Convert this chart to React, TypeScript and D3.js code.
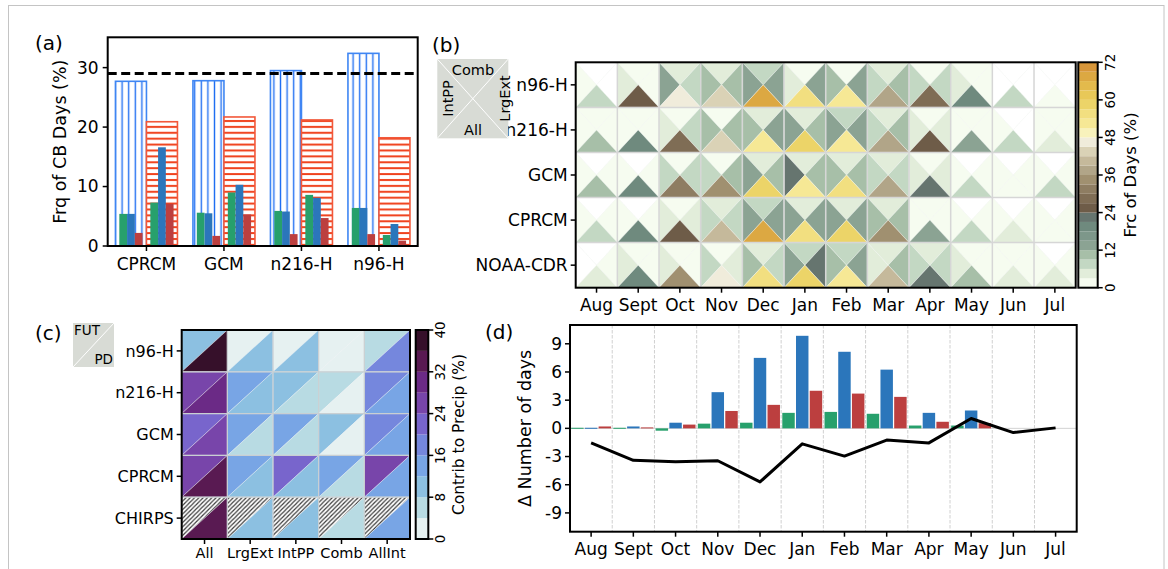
import React from "react";
import * as d3 from "d3";

const FONT = "'DejaVu Sans', sans-serif";

// ---------- Panel (a) ----------
const modelsA = ["CPRCM", "GCM", "n216-H", "n96-H"];
const hatchBlueTotals = [27.7, 27.8, 29.5, 32.4];
const hatchRedTotals = [20.9, 21.7, 21.2, 18.2];
const pdGreen = [5.4, 5.6, 5.9, 6.4];
const pdBlue = [5.4, 5.5, 5.8, 6.4];
const pdRed = [2.2, 1.7, 2.0, 2.0];
const futGreen = [7.3, 9.0, 8.6, 1.85];
const futBlue = [16.6, 10.3, 8.1, 3.7];
const futRed = [7.1, 5.3, 4.7, 0.9];
const obsLine = 29.0;
const aTicks = [0, 10, 20, 30];

// ---------- Panel (b) ----------
const monthsB = ["Aug", "Sept", "Oct", "Nov", "Dec", "Jan", "Feb", "Mar", "Apr", "May", "Jun", "Jul"];
const rowsB = ["n96-H", "n216-H", "GCM", "CPRCM", "NOAA-CDR"];
const bComb = [
  [0, 1.5, 4.5, 4.5, 7.5, 1.5, 1.5, 4.5, 1.5, 1.5, 0, 0],
  [1.5, 1.5, 1.5, 1.5, 4.5, 4.5, 7.5, 4.5, 1.5, 1.5, 0, 1.5],
  [0, 0, 1.5, 1.5, 4.5, 4.5, 4.5, 4.5, 1.5, 0, 0, 0],
  [0, 0, 1.5, 4.5, 7.5, 4.5, 4.5, 4.5, 1.5, 0, 0, 0],
  [0, 1.5, 1.5, 1.5, 4.5, 7.5, 7.5, 4.5, 4.5, 1.5, 1.5, 0],
];
const bIntPP = [
  [1.5, 4.5, 13.5, 10.5, 13.5, 4.5, 10.5, 7.5, 7.5, 4.5, 0, 0],
  [1.5, 1.5, 4.5, 10.5, 10.5, 13.5, 13.5, 7.5, 4.5, 1.5, 1.5, 1.5],
  [1.5, 1.5, 7.5, 7.5, 13.5, 22.5, 10.5, 7.5, 4.5, 1.5, 1.5, 1.5],
  [1.5, 1.5, 4.5, 7.5, 13.5, 13.5, 13.5, 10.5, 1.5, 1.5, 1.5, 1.5],
  [0, 4.5, 4.5, 7.5, 10.5, 13.5, 10.5, 4.5, 7.5, 4.5, 1.5, 1.5],
];
const bLrgExt = [
  [0, 1.5, 7.5, 10.5, 13.5, 13.5, 13.5, 10.5, 7.5, 1.5, 0, 0],
  [1.5, 1.5, 7.5, 10.5, 13.5, 10.5, 13.5, 10.5, 4.5, 1.5, 0, 1.5],
  [1.5, 1.5, 7.5, 10.5, 10.5, 10.5, 10.5, 7.5, 4.5, 1.5, 1.5, 1.5],
  [1.5, 1.5, 4.5, 7.5, 13.5, 13.5, 13.5, 10.5, 1.5, 1.5, 1.5, 1.5],
  [1.5, 1.5, 1.5, 4.5, 7.5, 22.5, 13.5, 10.5, 7.5, 1.5, 1.5, 1.5],
];
const bAll = [
  [7.5, 25.5, 46.5, 43.5, 67.5, 55.5, 52.5, 37.5, 28.5, 19.5, 7.5, 1.5],
  [10.5, 19.5, 28.5, 43.5, 52.5, 58.5, 52.5, 37.5, 25.5, 13.5, 7.5, 4.5],
  [10.5, 19.5, 31.5, 35, 58.5, 52.5, 55.5, 37.5, 22.5, 7.5, 1.5, 7.5],
  [7.5, 19.5, 25.5, 40.5, 67.5, 55.5, 58.5, 35, 13.5, 7.5, 4.5, 1.5],
  [4.5, 19.5, 34.5, 46.5, 55.5, 58.5, 52.5, 40.5, 22.5, 10.5, 4.5, 4.5],
];
const bTicks = [0, 12, 24, 36, 48, 60, 72];
const bPalette = [
  "#f6fcf0", "#e2edda", "#c3d8c3", "#a7bfa8", "#8ba393", "#7d978a", "#6f8a7e", "#66756f",
  "#6e5c48", "#7f6d55", "#8e7d62", "#a09070", "#b1a588", "#c5b99b", "#dad2b6", "#f0ecdb",
  "#f8f2bc", "#f6e895", "#f2df80", "#ecd468", "#e8c858", "#e3ba4c", "#dca842", "#d7963a",
];

// ---------- Panel (c) ----------
const rowsC = ["n96-H", "n216-H", "GCM", "CPRCM", "CHIRPS"];
const colsC = ["All", "LrgExt", "IntPP", "Comb", "AllInt"];
const cFUT: (number | null)[][] = [
  [10, 2, 2, 2, 6],
  [26, 14, 10, 6, 18],
  [22, 14, 14, 10, 18],
  [26, 14, 22, 14, 26],
  [null, null, null, null, null],
];
const cPD = [
  [38, 10, 10, 2, 18],
  [30, 10, 6, 2, 14],
  [26, 6, 6, 2, 14],
  [34, 10, 10, 6, 14],
  [34, 10, 10, 6, 14],
];
const cTicks = [0, 8, 16, 24, 32, 40];
const cPalette = [
  "#e6f1f1", "#b8dbe3", "#8cc0e1", "#78a5e5", "#7587dd",
  "#7865cc", "#7845aa", "#6b2a86", "#591a52", "#36102a",
];

// ---------- Panel (d) ----------
const monthsD = monthsB;
const dGreen = [0.06, 0.06, -0.25, 0.5, 0.6, 1.65, 1.75, 1.55, 0.3, 0.3, 0, 0];
const dBlue = [0.06, 0.2, 0.6, 3.85, 7.5, 9.85, 8.15, 6.25, 1.65, 1.9, 0, 0];
const dRed = [0.2, 0.1, 0.4, 1.85, 2.5, 4.0, 3.7, 3.35, 0.7, 0.55, 0, 0];
const dLine = [-1.55, -3.4, -3.55, -3.45, -5.7, -1.65, -2.95, -1.25, -1.55, 1.05, -0.45, 0.05];
const dTicks = [-9, -6, -3, 0, 3, 6, 9];

const GREEN = "#27a06c";
const BLUE = "#2b76bb";
const RED = "#bc3f3f";

const TICK = 17;
const LAB = 17.5;

function PanelA() {
  const x = d3.scaleLinear().domain([-0.5, 3.5]).range([107.7, 417.7]);
  const y = d3.scaleLinear().domain([0, 35.1]).range([246, 37.3]);
  const small = [
    { vals: pdGreen, off: -0.3, color: GREEN },
    { vals: pdBlue, off: -0.2, color: BLUE },
    { vals: pdRed, off: -0.1, color: RED },
    { vals: futGreen, off: 0.1, color: GREEN },
    { vals: futBlue, off: 0.2, color: BLUE },
    { vals: futRed, off: 0.3, color: RED },
  ];
  const [x0, x1] = x.range();
  const [yb, yt] = y.range();
  return (
    <g>
      <defs>
        <pattern id="hatchBlue" patternUnits="userSpaceOnUse" width={6.6} height={10}>
          <rect width={6.6} height={10} fill="#fff" />
          <line x1={3.3} y1={0} x2={3.3} y2={10} stroke="#1f6ef2" strokeWidth={1.4} />
        </pattern>
        <pattern id="hatchRed" patternUnits="userSpaceOnUse" width={10} height={5.9}>
          <rect width={10} height={5.9} fill="#fff" />
          <line x1={0} y1={3} x2={10} y2={3} stroke="#f0421d" strokeWidth={2} />
        </pattern>
      </defs>
      {modelsA.map((m, i) => (
        <rect key={"hb" + m} x={x(i - 0.4)} y={y(hatchBlueTotals[i])} width={x(i) - x(i - 0.4)}
          height={y(0) - y(hatchBlueTotals[i])} fill="url(#hatchBlue)" stroke="#3f86f3" strokeWidth={1.6} />
      ))}
      {modelsA.map((m, i) => (
        <rect key={"hr" + m} x={x(i)} y={y(hatchRedTotals[i])} width={x(i + 0.4) - x(i)}
          height={y(0) - y(hatchRedTotals[i])} fill="url(#hatchRed)" stroke="#f2583a" strokeWidth={1.6} />
      ))}
      {small.map((s, k) =>
        s.vals.map((v, i) => (
          <rect key={"s" + k + "-" + i} x={x(i + s.off - 0.05)} y={y(v)} width={x(0.1) - x(0)}
            height={y(0) - y(v)} fill={s.color} />
        ))
      )}
      <line x1={x0} x2={x1} y1={y(obsLine)} y2={y(obsLine)} stroke="#000" strokeWidth={3} strokeDasharray="9,4.5" />
      <rect x={x0} y={yt} width={x1 - x0} height={yb - yt} fill="none" stroke="#000" strokeWidth={2} />
      {aTicks.map((t) => (
        <g key={"at" + t}>
          <line x1={x0 - 5} x2={x0} y1={y(t)} y2={y(t)} stroke="#000" strokeWidth={1.5} />
          <text x={x0 - 9} y={y(t)} dy="0.35em" textAnchor="end" fontSize={TICK}>{t}</text>
        </g>
      ))}
      {modelsA.map((m, i) => (
        <g key={"ax" + m}>
          <line x1={x(i)} x2={x(i)} y1={yb} y2={yb + 5} stroke="#000" strokeWidth={1.5} />
          <text x={x(i)} y={yb + 24} textAnchor="middle" fontSize={TICK}>{m}</text>
        </g>
      ))}
      <text transform={`translate(60,${(yb + yt) / 2}) rotate(-90)`} textAnchor="middle" dy="0.35em" fontSize={LAB}>
        Frq of CB Days (%)
      </text>
      <text x={35} y={50} fontSize={20}>(a)</text>
    </g>
  );
}

function PanelB() {
  const x = d3.scaleBand<string>().domain(monthsB).range([575.7, 1075.7]);
  const y = d3.scaleBand<string>().domain(rowsB).range([62.3, 287.7]);
  const color = (v: number) => (v <= 0 ? "#ffffff" : bPalette[Math.min(23, Math.floor(v / 3))]);
  const cb = d3.scaleLinear().domain([0, 72]).range([287.7, 62.3]);
  const cw = x.bandwidth();
  const ch = y.bandwidth();
  const tris: JSX.Element[] = [];
  rowsB.forEach((r, ri) => {
    monthsB.forEach((m, ci) => {
      const x0 = x(m)!, x1 = x0 + cw, y0 = y(r)!, y1 = y0 + ch, xm = x0 + cw / 2, ym = y0 + ch / 2;
      const parts: [string, number][] = [
        [`${x0},${y0} ${x1},${y0} ${xm},${ym}`, bComb[ri][ci]],
        [`${x0},${y0} ${x0},${y1} ${xm},${ym}`, bIntPP[ri][ci]],
        [`${x1},${y0} ${x1},${y1} ${xm},${ym}`, bLrgExt[ri][ci]],
        [`${x0},${y1} ${x1},${y1} ${xm},${ym}`, bAll[ri][ci]],
      ];
      parts.forEach(([pts, v], k) => {
        tris.push(
          <polygon key={`t${ri}-${ci}-${k}`} points={pts} fill={color(v)} stroke="#f4f6f2" strokeWidth={0.6} strokeOpacity={0.7} />
        );
      });
    });
  });
  const [xl, xr] = x.range();
  const [yt, yb] = y.range();
  return (
    <g>
      {tris}
      {monthsB.slice(1).map((m) => (
        <line key={"gv" + m} x1={x(m)} x2={x(m)} y1={yt} y2={yb} stroke="#d6d6d6" strokeWidth={1.5} />
      ))}
      {rowsB.slice(1).map((r) => (
        <line key={"gh" + r} x1={xl} x2={xr} y1={y(r)} y2={y(r)} stroke="#d6d6d6" strokeWidth={1.5} />
      ))}
      <rect x={xl} y={yt} width={xr - xl} height={yb - yt} fill="none" stroke="#000" strokeWidth={2} />
      {monthsB.map((m) => (
        <g key={"bx" + m}>
          <line x1={x(m)! + cw / 2} x2={x(m)! + cw / 2} y1={yb} y2={yb + 5} stroke="#000" strokeWidth={1.5} />
          <text x={x(m)! + cw / 2} y={yb + 23} textAnchor="middle" fontSize={TICK}>{m}</text>
        </g>
      ))}
      {rowsB.map((r) => (
        <g key={"by" + r}>
          <line x1={xl - 5} x2={xl} y1={y(r)! + ch / 2} y2={y(r)! + ch / 2} stroke="#000" strokeWidth={1.5} />
          <text x={xl - 8} y={y(r)! + ch / 2} dy="0.35em" textAnchor="end" fontSize={TICK}>{r}</text>
        </g>
      ))}
      {/* colorbar */}
      {bPalette.map((c, i) => (
        <rect key={"cb" + i} x={1078.3} width={19.4} y={cb((i + 1) * 3)} height={cb(i * 3) - cb((i + 1) * 3)} fill={c} />
      ))}
      <rect x={1078.3} width={19.4} y={62.3} height={225.4} fill="none" stroke="#000" strokeWidth={2} />
      {bTicks.map((t) => (
        <g key={"cbt" + t}>
          <line x1={1097.7} x2={1102.7} y1={cb(t)} y2={cb(t)} stroke="#000" strokeWidth={1.5} />
          <text transform={`translate(1110,${cb(t)}) rotate(-90)`} textAnchor="middle" dy="0.35em" fontSize={13.5}>{t}</text>
        </g>
      ))}
      <text transform={`translate(1130.5,175) rotate(-90)`} textAnchor="middle" dy="0.35em" fontSize={16.5}>Frc of Days (%)</text>
      {/* legend */}
      <rect x={437.3} y={59} width={71} height={79.3} fill="#d8dbd5" />
      <line x1={437.3} y1={59} x2={508.3} y2={138.3} stroke="#fff" strokeWidth={1} />
      <line x1={508.3} y1={59} x2={437.3} y2={138.3} stroke="#fff" strokeWidth={1} />
      <text x={473} y={75} textAnchor="middle" fontSize={14.5}>Comb</text>
      <text x={473} y={135} textAnchor="middle" fontSize={14.5}>All</text>
      <text transform="translate(447.5,98.5) rotate(-90)" textAnchor="middle" dy="0.35em" fontSize={14.5}>IntPP</text>
      <text transform="translate(504.5,98.5) rotate(-90)" textAnchor="middle" dy="0.35em" fontSize={14.5}>LrgExt</text>
      <text x={432} y={52} fontSize={20}>(b)</text>
    </g>
  );
}

function PanelC() {
  const x = d3.scaleBand<string>().domain(colsC).range([181.7, 410]);
  const y = d3.scaleBand<string>().domain(rowsC).range([330, 539]);
  const color = (v: number) => cPalette[Math.min(9, Math.floor(v / 4))];
  const cb = d3.scaleLinear().domain([0, 40]).range([539, 330]);
  const cw = x.bandwidth();
  const ch = y.bandwidth();
  const [xl, xr] = x.range();
  const [yt, yb] = y.range();
  const tris: JSX.Element[] = [];
  rowsC.forEach((r, ri) => {
    colsC.forEach((c, ci) => {
      const x0 = x(c)!, x1 = x0 + cw, y0 = y(r)!, y1 = y0 + ch;
      const fut = cFUT[ri][ci];
      tris.push(
        <polygon key={`f${ri}-${ci}`} points={`${x0},${y0} ${x1},${y0} ${x0},${y1}`}
          fill={fut == null ? "url(#hatchC)" : color(fut)} stroke="#eef2f4" strokeWidth={0.6} strokeOpacity={0.6} />
      );
      tris.push(
        <polygon key={`p${ri}-${ci}`} points={`${x1},${y0} ${x1},${y1} ${x0},${y1}`}
          fill={color(cPD[ri][ci])} stroke="#eef2f4" strokeWidth={0.6} strokeOpacity={0.6} />
      );
    });
  });
  return (
    <g>
      <defs>
        <pattern id="hatchC" patternUnits="userSpaceOnUse" width={4.3} height={4.3}>
          <rect width={4.3} height={4.3} fill="#fff" />
          <path d="M0,4.3 L4.3,0 M-1,1 L1,-1 M3.3,5.3 L5.3,3.3" stroke="#3a3a3a" strokeWidth={1.2} />
        </pattern>
      </defs>
      {tris}
      {colsC.slice(1).map((c) => (
        <line key={"cv" + c} x1={x(c)} x2={x(c)} y1={yt} y2={yb} stroke="#c9cfd2" strokeWidth={1.2} />
      ))}
      {rowsC.slice(1).map((r) => (
        <line key={"ch" + r} x1={xl} x2={xr} y1={y(r)} y2={y(r)} stroke="#c9cfd2" strokeWidth={1.2} />
      ))}
      <rect x={xl} y={yt} width={xr - xl} height={yb - yt} fill="none" stroke="#000" strokeWidth={2} />
      {colsC.map((c) => (
        <g key={"cx" + c}>
          <line x1={x(c)! + cw / 2} x2={x(c)! + cw / 2} y1={yb} y2={yb + 5} stroke="#000" strokeWidth={1.5} />
          <text x={x(c)! + cw / 2} y={yb + 19} textAnchor="middle" fontSize={14.5}>{c}</text>
        </g>
      ))}
      {rowsC.map((r) => (
        <g key={"cy" + r}>
          <line x1={xl - 5} x2={xl} y1={y(r)! + ch / 2} y2={y(r)! + ch / 2} stroke="#000" strokeWidth={1.5} />
          <text x={xl - 8} y={y(r)! + ch / 2} dy="0.35em" textAnchor="end" fontSize={16}>{r}</text>
        </g>
      ))}
      {cPalette.map((c, i) => (
        <rect key={"ccb" + i} x={415.7} width={12.6} y={cb((i + 1) * 4)} height={cb(i * 4) - cb((i + 1) * 4)} fill={c} />
      ))}
      <rect x={415.7} width={12.6} y={330} height={209} fill="none" stroke="#000" strokeWidth={2} />
      {cTicks.map((t) => (
        <g key={"cct" + t}>
          <line x1={428.3} x2={433.3} y1={cb(t)} y2={cb(t)} stroke="#000" strokeWidth={1.5} />
          <text transform={`translate(440.5,${cb(t)}) rotate(-90)`} textAnchor="middle" dy="0.35em" fontSize={13.5}>{t}</text>
        </g>
      ))}
      <text transform={`translate(459,${(yt + yb) / 2}) rotate(-90)`} textAnchor="middle" dy="0.35em" fontSize={15.5}>Contrib to Precip (%)</text>
      {/* legend */}
      <rect x={73} y={323} width={41} height={44} fill="#d8dbd5" />
      <line x1={73} y1={367} x2={114} y2={323} stroke="#fff" strokeWidth={1} />
      <text x={74} y={334.5} fontSize={13.5}>FUT</text>
      <text x={113} y={364} textAnchor="end" fontSize={13.5}>PD</text>
      <text x={35} y={340} fontSize={20}>(c)</text>
    </g>
  );
}

function PanelD() {
  const x = d3.scaleLinear().domain([-0.5, 11.5]).range([570, 1076.7]);
  const y = d3.scaleLinear().domain([-11, 11]).range([531.7, 325]);
  const [xl, xr] = x.range();
  const [yb, yt] = y.range();
  const slot = 0.325;
  const bw = 0.295;
  const series = [
    { vals: dGreen, off: -slot, color: GREEN },
    { vals: dBlue, off: 0, color: BLUE },
    { vals: dRed, off: slot, color: RED },
  ];
  const line = d3.line<number>().x((_, i) => x(i)).y((d) => y(d));
  return (
    <g>
      {monthsD.slice(0, 11).map((m, i) => (
        <line key={"dg" + m} x1={x(i + 0.5)} x2={x(i + 0.5)} y1={yt} y2={yb} stroke="#d0d0d0" strokeWidth={1} strokeDasharray="3.5,1.5" />
      ))}
      <line x1={xl} x2={xr} y1={y(0)} y2={y(0)} stroke="#d3d3d3" strokeWidth={1} />
      {series.map((s, k) =>
        s.vals.map((v, i) =>
          v === 0 ? null : (
            <rect key={`d${k}-${i}`} x={x(i + s.off - bw / 2)} width={x(bw) - x(0)}
              y={y(Math.max(0, v))} height={Math.max(1, Math.abs(y(v) - y(0)))} fill={s.color} />
          )
        )
      )}
      <path d={line(dLine)!} fill="none" stroke="#000" strokeWidth={3} strokeLinejoin="round" />
      <rect x={xl} y={yt} width={xr - xl} height={yb - yt} fill="none" stroke="#000" strokeWidth={2} />
      {dTicks.map((t) => (
        <g key={"dt" + t}>
          <line x1={xl - 5} x2={xl} y1={y(t)} y2={y(t)} stroke="#000" strokeWidth={1.5} />
          <text x={xl - 8} y={y(t)} dy="0.35em" textAnchor="end" fontSize={TICK}>{t}</text>
        </g>
      ))}
      {monthsD.map((m, i) => (
        <g key={"dx" + m}>
          <line x1={x(i)} x2={x(i)} y1={yb} y2={yb + 5} stroke="#000" strokeWidth={1.5} />
          <text x={x(i)} y={yb + 23} textAnchor="middle" fontSize={TICK}>{m}</text>
        </g>
      ))}
      <text transform={`translate(524.5,${(yt + yb) / 2}) rotate(-90)`} textAnchor="middle" dy="0.35em" fontSize={LAB}>Δ Number of days</text>
      <text x={485} y={339} fontSize={20}>(d)</text>
    </g>
  );
}

export default function App() {
  return (
    <svg width={1168} height={569} style={{ position: "fixed", left: 0, top: 0, background: "#fff" }}
      fontFamily={FONT} fill="#000">
      <rect x={0} y={0} width={1168} height={569} fill="#fff" />
      <rect x={8.5} y={5.5} width={1155.5} height={600} fill="none" stroke="#c4c4c4" strokeWidth={1} />
      <PanelA />
      <PanelB />
      <PanelC />
      <PanelD />
    </svg>
  );
}
